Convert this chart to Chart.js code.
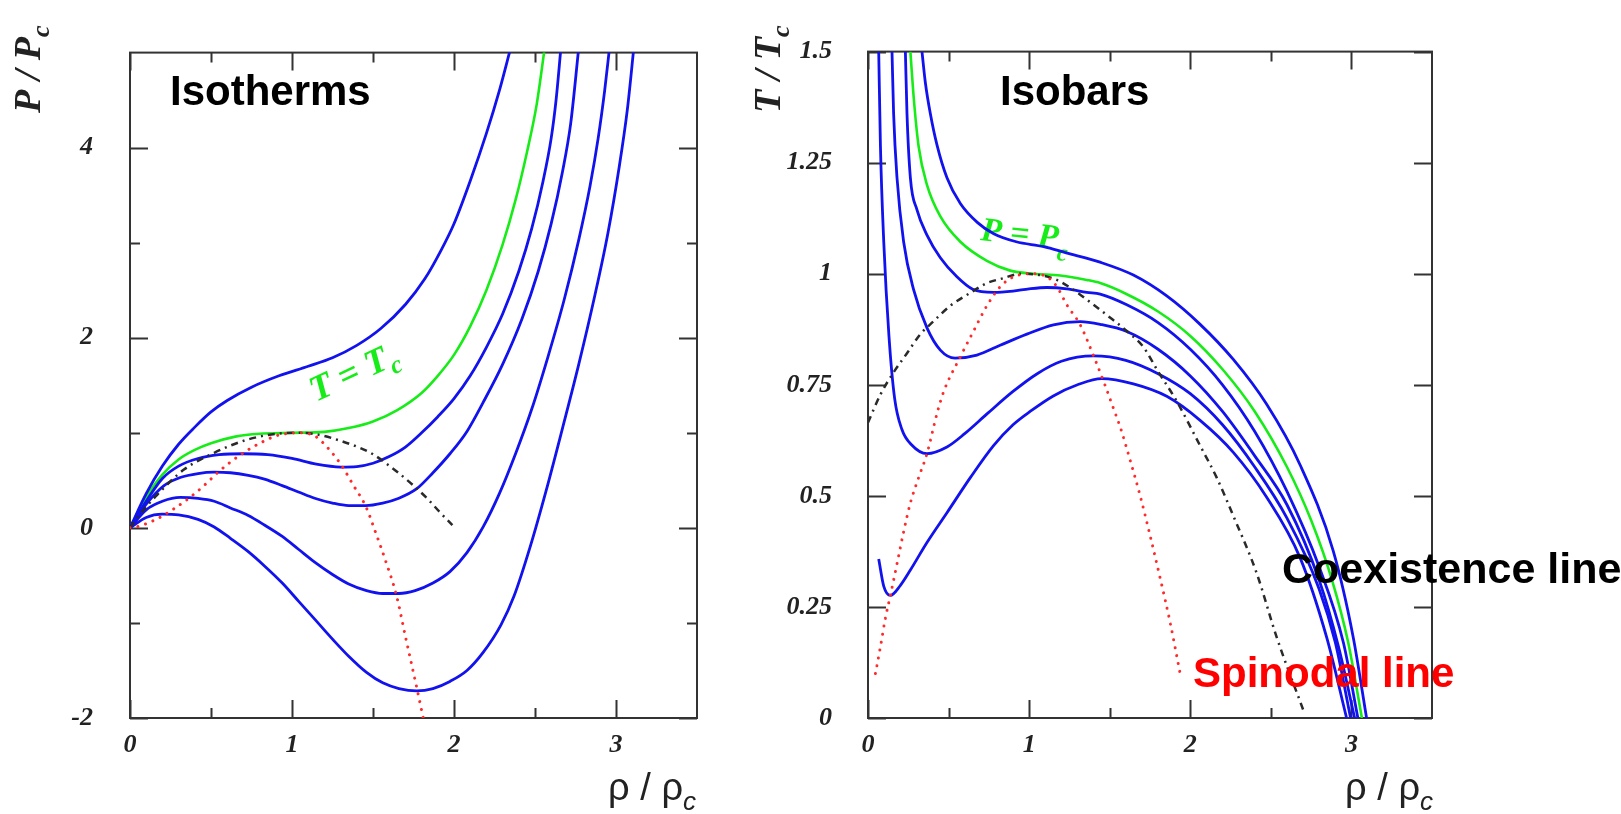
<!DOCTYPE html>
<html>
<head>
<meta charset="utf-8">
<title>Isotherms and isobars</title>
<script src="https://cdn.jsdelivr.net/npm/chart.js@4.4.0/dist/chart.umd.min.js"></script>
<style>
  html, body { margin: 0; padding: 0; background: #fff; }
  body { width: 1621px; height: 814px; position: relative; overflow: hidden; }
  .panel { position: absolute; top: 0; height: 814px; }
  #isoPanel { left: 0; width: 740px; }
  #barPanel { left: 740px; width: 881px; }
</style>
</head>
<body>
<div class="panel" id="isoPanel"><canvas id="isothermsChart" width="740" height="814"></canvas></div>
<div class="panel" id="barPanel"><canvas id="isobarsChart" width="881" height="814"></canvas></div>
<script>
// ---- Isotherms: P/Pc against rho/rhoc ----
const isoXTicks = [0, 1, 2, 3];
const isoXMinor = [0.5, 1.5, 2.5];
const isoYTicks = [-2, 0, 2, 4];
const isoYMinor = [-1, 1, 3];

const isothermHot = [[0,0],[0.1,0.36],[0.2,0.65],[0.3,0.88],[0.4,1.06],[0.5,1.22],[0.6,1.34],[0.75,1.48],[0.92,1.60],[1.1,1.70],[1.25,1.79],[1.4,1.92],[1.55,2.10],[1.7,2.35],[1.82,2.62],[1.92,2.92],[2.0,3.2],[2.1,3.65],[2.2,4.15],[2.28,4.6],[2.35,5.05]];
const isothermCrit = [[0,0],[0.1,0.32],[0.2,0.56],[0.3,0.72],[0.4,0.82],[0.5,0.89],[0.65,0.96],[0.8,0.99],[1.0,1.0],[1.2,1.01],[1.35,1.05],[1.5,1.12],[1.65,1.24],[1.8,1.42],[1.9,1.6],[2.0,1.82],[2.1,2.12],[2.2,2.5],[2.3,2.98],[2.38,3.45],[2.45,3.95],[2.51,4.45],[2.56,5.05]];
const isotherm3 = [[0,0],[0.1,0.28],[0.2,0.52],[0.3,0.65],[0.42,0.73],[0.55,0.77],[0.7,0.78],[0.85,0.77],[1.0,0.73],[1.15,0.67],[1.3,0.64],[1.4,0.645],[1.5,0.68],[1.6,0.75],[1.7,0.85],[1.8,1.0],[1.9,1.17],[2.0,1.36],[2.1,1.6],[2.2,1.9],[2.3,2.25],[2.4,2.7],[2.48,3.15],[2.55,3.65],[2.6,4.1],[2.63,4.5],[2.66,5.05]];
const isotherm4 = [[0,0],[0.1,0.25],[0.21,0.445],[0.31,0.53],[0.42,0.572],[0.52,0.586],[0.62,0.58],[0.73,0.553],[0.83,0.513],[0.94,0.445],[1.04,0.378],[1.14,0.312],[1.25,0.261],[1.35,0.235],[1.455,0.235],[1.56,0.261],[1.66,0.312],[1.77,0.412],[1.87,0.58],[1.975,0.78],[2.08,1.015],[2.18,1.32],[2.3,1.72],[2.42,2.2],[2.52,2.7],[2.6,3.2],[2.67,3.75],[2.72,4.25],[2.77,5.05]];
const isotherm5 = [[0,0],[0.1,0.19],[0.2,0.28],[0.31,0.32],[0.42,0.31],[0.52,0.28],[0.62,0.21],[0.73,0.13],[0.83,0.03],[0.94,-0.09],[1.04,-0.225],[1.14,-0.36],[1.25,-0.49],[1.35,-0.59],[1.46,-0.66],[1.56,-0.69],[1.66,-0.69],[1.76,-0.66],[1.87,-0.58],[1.975,-0.46],[2.08,-0.26],[2.18,0.01],[2.28,0.36],[2.38,0.78],[2.48,1.25],[2.58,1.8],[2.68,2.4],[2.77,3.03],[2.84,3.6],[2.89,4.1],[2.93,4.6],[2.96,5.05]];
const isotherm6 = [[0,0],[0.1,0.11],[0.2,0.144],[0.3,0.137],[0.42,0.09],[0.52,0.01],[0.62,-0.11],[0.73,-0.25],[0.83,-0.4],[0.94,-0.58],[1.04,-0.77],[1.14,-0.96],[1.25,-1.17],[1.35,-1.35],[1.46,-1.52],[1.56,-1.63],[1.66,-1.69],[1.77,-1.715],[1.87,-1.69],[1.975,-1.615],[2.08,-1.50],[2.18,-1.31],[2.29,-1.02],[2.37,-0.72],[2.47,-0.2],[2.57,0.4],[2.67,1.05],[2.77,1.72],[2.87,2.45],[2.95,3.1],[3.02,3.8],[3.07,4.4],[3.11,5.05]];
const isoCoexistence = [[0,0],[0.062,0.144],[0.166,0.345],[0.333,0.613],[0.52,0.79],[0.728,0.93],[0.936,0.995],[1.04,1.0],[1.164,0.98],[1.29,0.921],[1.41,0.848],[1.5,0.775],[1.58,0.68],[1.66,0.575],[1.75,0.445],[1.84,0.3],[1.91,0.17],[1.99,0.03]];
const isoSpinodal = [[0,0],[0.06,0.02],[0.166,0.094],[0.27,0.2],[0.364,0.312],[0.457,0.445],[0.54,0.58],[0.624,0.697],[0.707,0.797],[0.81,0.898],[0.915,0.975],[1.04,1.0],[1.143,0.964],[1.227,0.83],[1.31,0.647],[1.38,0.445],[1.455,0.228],[1.518,-0.057],[1.58,-0.358],[1.642,-0.693],[1.705,-1.18],[1.77,-1.68],[1.81,-2.0]];

// ---- Isobars: T/Tc against rho/rhoc ----
const barXTicks = [0, 1, 2, 3];
const barXMinor = [0.5, 1.5, 2.5];
const barYTicks = [0, 0.25, 0.5, 0.75, 1, 1.25, 1.5];

const isobarHigh = [[0.335,1.5],[0.356,1.43],[0.387,1.36],[0.428,1.29],[0.49,1.216],[0.573,1.158],[0.68,1.115],[0.78,1.09],[0.92,1.072],[1.09,1.061],[1.23,1.047],[1.44,1.026],[1.647,0.997],[1.854,0.95],[2.061,0.886],[2.267,0.807],[2.474,0.706],[2.681,0.57],[2.887,0.376],[3.011,0.182],[3.094,0]];
const isobarCrit = [[0.263,1.5],[0.284,1.395],[0.314,1.287],[0.366,1.2],[0.449,1.129],[0.573,1.072],[0.738,1.029],[0.883,1.007],[1.027,1.0],[1.193,0.996],[1.358,0.986],[1.441,0.979],[1.6,0.955],[1.8,0.915],[2.0,0.86],[2.2,0.785],[2.4,0.69],[2.6,0.565],[2.75,0.445],[2.88,0.31],[2.98,0.17],[3.065,0]];
const isobar3 = [[0.232,1.5],[0.242,1.36],[0.263,1.216],[0.304,1.144],[0.366,1.087],[0.449,1.036],[0.552,0.993],[0.65,0.965],[0.78,0.958],[0.9,0.961],[1.0,0.966],[1.11,0.969],[1.234,0.966],[1.358,0.958],[1.441,0.954],[1.606,0.93],[1.8,0.89],[2.0,0.83],[2.2,0.75],[2.4,0.645],[2.6,0.51],[2.8,0.34],[2.95,0.17],[3.04,0]];
const isobar4 = [[0.149,1.5],[0.159,1.36],[0.18,1.216],[0.221,1.072],[0.283,0.964],[0.366,0.878],[0.449,0.828],[0.54,0.81],[0.676,0.817],[0.82,0.839],[0.986,0.864],[1.151,0.885],[1.317,0.892],[1.441,0.886],[1.606,0.87],[1.8,0.83],[2.0,0.77],[2.2,0.69],[2.4,0.59],[2.6,0.48],[2.8,0.31],[2.92,0.16],[3.02,0]];
const isobar5 = [[0.0665,1.5],[0.077,1.29],[0.098,1.07],[0.13,0.86],[0.165,0.72],[0.21,0.65],[0.27,0.615],[0.366,0.595],[0.49,0.61],[0.6,0.64],[0.74,0.685],[0.9,0.735],[1.05,0.775],[1.2,0.803],[1.4,0.815],[1.6,0.805],[1.8,0.775],[2.0,0.73],[2.2,0.66],[2.4,0.565],[2.6,0.45],[2.8,0.29],[2.9,0.17],[2.995,0]];
const isobar6 = [[0.0665,0.358],[0.0975,0.297],[0.139,0.276],[0.2,0.298],[0.263,0.333],[0.366,0.395],[0.49,0.462],[0.635,0.541],[0.779,0.613],[0.9,0.66],[1.006,0.69],[1.15,0.725],[1.3,0.75],[1.45,0.764],[1.647,0.752],[1.854,0.724],[2.061,0.67],[2.267,0.598],[2.474,0.497],[2.681,0.361],[2.846,0.182],[2.97,0]];
const barCoexistence = [[0,0.665],[0.077,0.728],[0.159,0.778],[0.242,0.821],[0.325,0.864],[0.407,0.893],[0.511,0.928],[0.635,0.957],[0.738,0.979],[0.841,0.99],[0.945,1.0],[1.069,0.997],[1.172,0.986],[1.275,0.964],[1.379,0.936],[1.482,0.907],[1.606,0.871],[1.709,0.835],[1.8,0.78],[1.916,0.713],[2.061,0.613],[2.164,0.541],[2.267,0.455],[2.412,0.326],[2.536,0.182],[2.702,0.017]];
const barSpinodal = [[0.046,0.1],[0.077,0.16],[0.108,0.225],[0.139,0.276],[0.18,0.347],[0.221,0.419],[0.263,0.484],[0.314,0.541],[0.366,0.595],[0.428,0.685],[0.469,0.734],[0.573,0.813],[0.655,0.871],[0.738,0.928],[0.821,0.971],[0.903,0.993],[1.007,1.0],[1.11,0.993],[1.172,0.971],[1.234,0.93],[1.317,0.885],[1.40,0.815],[1.47,0.75],[1.53,0.69],[1.565,0.655],[1.627,0.58],[1.689,0.5],[1.751,0.41],[1.813,0.315],[1.875,0.215],[1.937,0.1]];

// ---- styling ----
const BLUE = '#1212ee';
const GREEN = '#18ec18';
const RED = '#ff2a2a';
const INK = '#222';
const serif = '"Liberation Serif", "Times New Roman", serif';
const sans = '"Liberation Sans", Arial, sans-serif';
const tickFont = { family: serif, style: 'italic', weight: 'bold', size: 26 };

function solid(pairs, color, width) {
    return {
        data: pairs.map(([x, y]) => ({ x, y })),
        borderColor: color,
        borderWidth: width,
        pointRadius: 0,
        fill: false,
        cubicInterpolationMode: 'monotone'
    };
}

function dotted(pairs) {
    return Object.assign(solid(pairs, RED, 3), { borderDash: [0.01, 8], borderCapStyle: 'round' });
}

function dashDot(pairs) {
    return Object.assign(solid(pairs, '#2a2a2a', 2.5), { borderDash: [7, 5, 2, 5] });
}

// frame around the plot area with inward tick marks on all four sides
const frameTicks = {
    id: 'frameTicks',
    beforeDatasetsDraw(chart, args, opts) {
        const { ctx, chartArea: a, scales: { x, y } } = chart;
        ctx.save();
        ctx.strokeStyle = '#333';
        ctx.lineWidth = 2;
        ctx.strokeRect(a.left, a.top, a.right - a.left, a.bottom - a.top);
        ctx.beginPath();
        const xMarks = (vals, len) => vals.forEach(v => {
            const px = Math.round(x.getPixelForValue(v)) + 0.5;
            ctx.moveTo(px, a.bottom); ctx.lineTo(px, a.bottom - len);
            ctx.moveTo(px, a.top); ctx.lineTo(px, a.top + len);
        });
        const yMarks = (vals, len) => vals.forEach(v => {
            const py = Math.round(y.getPixelForValue(v)) + 0.5;
            ctx.moveTo(a.left, py); ctx.lineTo(a.left + len, py);
            ctx.moveTo(a.right, py); ctx.lineTo(a.right - len, py);
        });
        xMarks(opts.xMajor, 18);
        xMarks(opts.xMinor, 10);
        yMarks(opts.yMajor, 18);
        yMarks(opts.yMinor || [], 10);
        ctx.stroke();
        ctx.restore();
    }
};

function drawLabel(ctx, item) {
    ctx.save();
    ctx.translate(item.x, item.y);
    if (item.angle) ctx.rotate(item.angle * Math.PI / 180);
    ctx.fillStyle = item.color;
    ctx.textAlign = 'left';
    ctx.textBaseline = 'alphabetic';
    ctx.font = item.font;
    const w = ctx.measureText(item.text).width;
    let subW = 0;
    if (item.sub) {
        ctx.font = item.subFont;
        subW = ctx.measureText(item.sub).width;
    }
    const x0 = item.align === 'right' ? -(w + subW) : 0;
    ctx.font = item.font;
    ctx.fillText(item.text, x0, 0);
    if (item.sub) {
        ctx.font = item.subFont;
        ctx.fillText(item.sub, x0 + w + (item.subDx || 0), item.subDy || 0);
    }
    ctx.restore();
}

// free text: panel names, line names and axis titles
const panelText = {
    id: 'panelText',
    beforeDatasetsDraw(chart, args, opts) {
        opts.items.filter(i => i.under).forEach(i => drawLabel(chart.ctx, i));
    },
    afterDatasetsDraw(chart, args, opts) {
        opts.items.filter(i => !i.under).forEach(i => drawLabel(chart.ctx, i));
    }
};

function axes(xTicks, yTicks, yMin, yMax, yWidth, yPad) {
    return {
        x: {
            type: 'linear', min: 0, max: 3.5,
            grid: { display: false, drawTicks: false },
            border: { display: false },
            afterBuildTicks: s => { s.ticks = xTicks.map(v => ({ value: v })); },
            afterFit: s => { s.height = 96; },
            ticks: { padding: 12, font: tickFont, color: INK, autoSkip: false, maxRotation: 0, callback: v => String(v) }
        },
        y: {
            type: 'linear', min: yMin, max: yMax,
            grid: { display: false, drawTicks: false },
            border: { display: false },
            afterBuildTicks: s => { s.ticks = yTicks.map(v => ({ value: v })); },
            afterFit: s => { s.width = yWidth; },
            ticks: { padding: yPad, font: tickFont, color: INK, autoSkip: false, callback: v => String(v) }
        }
    };
}

const rhoTitle = (right) => ({
    text: 'ρ / ρ', sub: 'c', x: right, y: 800, align: 'right', color: INK,
    font: '38px ' + sans, subFont: 'italic 26px ' + sans, subDy: 10
});

new Chart(document.getElementById('isothermsChart'), {
    type: 'line',
    data: {
        datasets: [
            dotted(isoSpinodal),
            dashDot(isoCoexistence),
            solid(isotherm6, BLUE, 2.8),
            solid(isotherm5, BLUE, 2.8),
            solid(isotherm4, BLUE, 2.8),
            solid(isotherm3, BLUE, 2.8),
            solid(isothermHot, BLUE, 2.8),
            solid(isothermCrit, GREEN, 2.6)
        ]
    },
    options: {
        responsive: false,
        animation: false,
        events: [],
        layout: { padding: { left: 0, top: 21, right: 43, bottom: 0 } },
        plugins: {
            legend: { display: false },
            tooltip: { enabled: false },
            frameTicks: { xMajor: isoXTicks, xMinor: isoXMinor, yMajor: isoYTicks, yMinor: isoYMinor },
            panelText: {
                items: [
                    { text: 'Isotherms', x: 170, y: 105, color: '#000', font: 'bold 42px ' + sans },
                    { text: 'T = T', sub: 'c', x: 316, y: 402, angle: -25, color: GREEN,
                      font: 'italic bold 36px ' + serif, subFont: 'italic bold 25px ' + serif, subDy: 8 },
                    { text: 'P / P', sub: 'c', x: 40, y: 113, angle: -90, color: INK,
                      font: 'italic bold 38px ' + serif, subFont: 'italic bold 26px ' + serif, subDy: 9 },
                    rhoTitle(696)
                ]
            }
        },
        scales: axes(isoXTicks, isoYTicks, -2, 5, 130, 37)
    },
    plugins: [frameTicks, panelText]
});

new Chart(document.getElementById('isobarsChart'), {
    type: 'line',
    data: {
        datasets: [
            dotted(barSpinodal),
            dashDot(barCoexistence),
            solid(isobar6, BLUE, 2.8),
            solid(isobar5, BLUE, 2.8),
            solid(isobar4, BLUE, 2.8),
            solid(isobar3, BLUE, 2.8),
            solid(isobarHigh, BLUE, 2.8),
            solid(isobarCrit, GREEN, 2.6)
        ]
    },
    options: {
        responsive: false,
        animation: false,
        events: [],
        layout: { padding: { left: 0, top: 21, right: 189, bottom: 0 } },
        plugins: {
            legend: { display: false },
            tooltip: { enabled: false },
            frameTicks: { xMajor: barXTicks, xMinor: barXMinor, yMajor: barYTicks },
            panelText: {
                items: [
                    { text: 'Isobars', x: 260, y: 105, color: '#000', font: 'bold 42px ' + sans },
                    { text: 'P = P', sub: 'c', x: 240, y: 240, angle: 6, color: GREEN, under: true,
                      font: 'italic bold 34px ' + serif, subFont: 'italic bold 24px ' + serif, subDy: 12 },
                    { text: 'Coexistence line', x: 542, y: 583, color: '#000', font: 'bold 43px ' + sans },
                    { text: 'Spinodal line', x: 453, y: 687, color: '#ff0000', font: 'bold 42px ' + sans },
                    { text: 'T / T', sub: 'c', x: 40, y: 113, angle: -90, color: INK,
                      font: 'italic bold 38px ' + serif, subFont: 'italic bold 26px ' + serif, subDy: 9 },
                    rhoTitle(693)
                ]
            }
        },
        scales: axes(barXTicks, barYTicks, 0, 1.5, 128, 36)
    },
    plugins: [frameTicks, panelText]
});
</script>
</body>
</html>
